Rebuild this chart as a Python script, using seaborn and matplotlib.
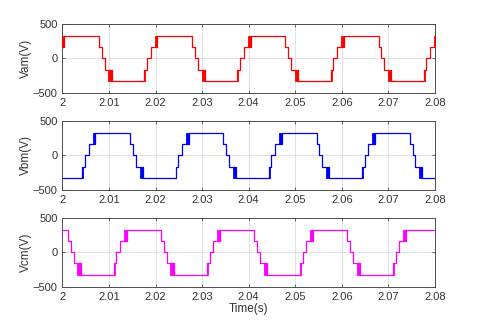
import matplotlib
matplotlib.use("Agg")
import matplotlib.pyplot as plt
import seaborn as sns
import pandas as pd

# ---- data (time in s, voltage in V, steps-post) ----
a_t = [2.0000, 2.0004, 2.0079, 2.0085, 2.0091, 2.0106, 2.0176, 2.0182, 2.0190, 2.0204,
       2.0279, 2.0285, 2.0291, 2.0306, 2.0376, 2.0382, 2.0390, 2.0404,
       2.0479, 2.0485, 2.0491, 2.0506, 2.0576, 2.0582, 2.0590, 2.0604,
       2.0679, 2.0685, 2.0691, 2.0706, 2.0776, 2.0782, 2.0790, 2.0800]
a_v = [162, 325, 162, 0, -162, -325, -162, 0, 162, 325,
       162, 0, -162, -325, -162, 0, 162, 325,
       162, 0, -162, -325, -162, 0, 162, 325,
       162, 0, -162, -325, -162, 0, 162, 162]
a_pwm = [(2.0000, 2.0004, 162, 325), (2.0099, 2.0106, -325, -162), (2.0176, 2.0178, -325, -162),
         (2.0198, 2.0204, 162, 325), (2.0299, 2.0306, -325, -162), (2.0376, 2.0378, -325, -162),
         (2.0398, 2.0404, 162, 325), (2.0499, 2.0506, -325, -162), (2.0576, 2.0578, -325, -162),
         (2.0598, 2.0604, 162, 325), (2.0699, 2.0706, -325, -162), (2.0776, 2.0778, -325, -162),
         (2.0798, 2.0800, 162, 325)]

b_t = [2.0000, 2.0043, 2.0049, 2.0057, 2.0071, 2.0146, 2.0152, 2.0158, 2.0173,
       2.0243, 2.0249, 2.0257, 2.0271, 2.0346, 2.0352, 2.0358, 2.0373,
       2.0443, 2.0449, 2.0457, 2.0471, 2.0546, 2.0552, 2.0558, 2.0573,
       2.0643, 2.0649, 2.0657, 2.0671, 2.0746, 2.0752, 2.0758, 2.0773, 2.0800]
b_v = [-325, -162, 0, 162, 325, 162, 0, -162, -325,
       -162, 0, 162, 325, 162, 0, -162, -325,
       -162, 0, 162, 325, 162, 0, -162, -325,
       -162, 0, 162, 325, 162, 0, -162, -325, -325]
b_pwm = [(2.0043, 2.0045, -325, -162), (2.0065, 2.0071, 162, 325), (2.0166, 2.0173, -325, -162),
         (2.0243, 2.0245, -325, -162), (2.0265, 2.0271, 162, 325), (2.0366, 2.0373, -325, -162),
         (2.0443, 2.0445, -325, -162), (2.0465, 2.0471, 162, 325), (2.0566, 2.0573, -325, -162),
         (2.0643, 2.0645, -325, -162), (2.0665, 2.0671, 162, 325), (2.0766, 2.0773, -325, -162)]

c_t = [2.0000, 2.0012, 2.0018, 2.0024, 2.0039, 2.0110, 2.0116, 2.0124, 2.0138,
       2.0212, 2.0218, 2.0224, 2.0239, 2.0310, 2.0316, 2.0324, 2.0338,
       2.0412, 2.0418, 2.0424, 2.0439, 2.0510, 2.0516, 2.0524, 2.0538,
       2.0612, 2.0618, 2.0624, 2.0639, 2.0710, 2.0716, 2.0724, 2.0738, 2.0800]
c_v = [325, 162, 0, -162, -325, -162, 0, 162, 325,
       162, 0, -162, -325, -162, 0, 162, 325,
       162, 0, -162, -325, -162, 0, 162, 325,
       162, 0, -162, -325, -162, 0, 162, 325, 325]
c_pwm = [(2.0032, 2.0039, -325, -162), (2.0110, 2.0112, -325, -162), (2.0132, 2.0138, 162, 325),
         (2.0232, 2.0239, -325, -162), (2.0310, 2.0312, -325, -162), (2.0332, 2.0338, 162, 325),
         (2.0432, 2.0439, -325, -162), (2.0510, 2.0512, -325, -162), (2.0532, 2.0538, 162, 325),
         (2.0632, 2.0639, -325, -162), (2.0710, 2.0712, -325, -162), (2.0732, 2.0738, 162, 325)]

labels = ["Vam(V)", "Vbm(V)", "Vcm(V)"]
colors = ["#ff0000", "#0000ff", "#ff00ff"]
x_ticks = [2.0, 2.01, 2.02, 2.03, 2.04, 2.05, 2.06, 2.07, 2.08]
x_tick_labels = ["2", "2.01", "2.02", "2.03", "2.04", "2.05", "2.06", "2.07", "2.08"]
y_ticks = [-500, 0, 500]

sns.set_theme(style="white")
plt.rcParams["font.family"] = ["Liberation Sans", "DejaVu Sans"]

fig = plt.figure(figsize=(4.8, 3.22), dpi=100)
left, width, height = 0.130, 0.776, 0.2155
bottoms = [0.711, 0.410, 0.109]

series = [(a_t, a_v, a_pwm), (b_t, b_v, b_pwm), (c_t, c_v, c_pwm)]
text_color = "#333333"
for i, ((t, v, pwm), lab, col) in enumerate(zip(series, labels, colors)):
    ax = fig.add_axes([left, bottoms[i], width, height])
    df = pd.DataFrame({"t": t, "v": v})
    sns.lineplot(data=df, x="t", y="v", ax=ax, color=col, linewidth=0.9,
                 estimator=None, drawstyle="steps-post", zorder=3)
    for (s, e, lo, hi) in pwm:
        ax.fill_between([s, e], [lo, lo], [hi, hi], color=col, linewidth=0.6,
                        edgecolor=col, zorder=3)
    ax.set_xlim(2.0, 2.08)
    ax.set_ylim(-500, 500)
    ax.set_xticks(x_ticks)
    ax.set_xticklabels(x_tick_labels)
    ax.set_yticks(y_ticks)
    ax.grid(True, color="#dcdcdc", linewidth=0.6)
    ax.set_axisbelow(True)
    for sp in ax.spines.values():
        sp.set_color("#4d4d4d")
        sp.set_linewidth(0.7)
        sp.set_visible(True)
    ax.tick_params(direction="in", length=2.5, width=0.6, color="#4d4d4d",
                   labelsize=8, labelcolor=text_color, pad=3.5,
                   top=True, right=True, bottom=True, left=True)
    ax.set_ylabel(lab, fontsize=8.5, color=text_color, labelpad=0.5)
    if i == 2:
        ax.set_xlabel("Time(s)", fontsize=8.5, color=text_color, labelpad=1)
    else:
        ax.set_xlabel("")

fig.savefig("out.png", dpi=100, facecolor="white")
